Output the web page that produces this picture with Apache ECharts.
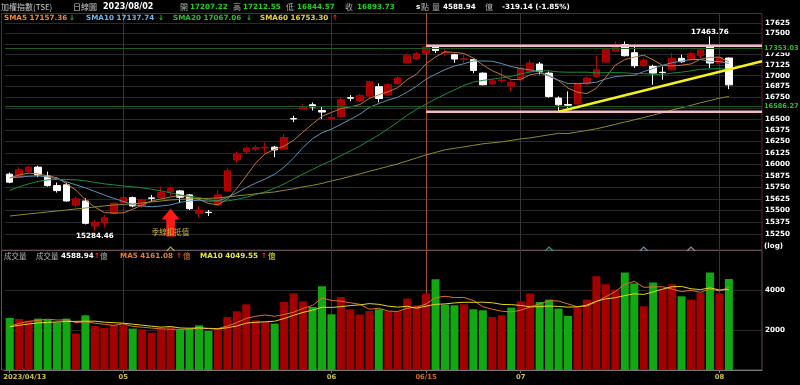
<!DOCTYPE html>
<html><head><meta charset="utf-8">
<script src="https://cdn.jsdelivr.net/npm/echarts@6/dist/echarts.min.js"></script>
<style>html,body{margin:0;padding:0;background:#000;}#c{width:800px;height:385px;}</style>
</head><body><div id="c"></div>
<script>
// ---------- data ----------
const dates = ['2023/04/13','2023/04/14','2023/04/17','2023/04/18','2023/04/19','2023/04/20','2023/04/21','2023/04/24','2023/04/25','2023/04/26','2023/04/27','2023/04/28',
'2023/05/02','2023/05/03','2023/05/04','2023/05/05','2023/05/08','2023/05/09','2023/05/10','2023/05/11','2023/05/12','2023/05/15','2023/05/16','2023/05/17','2023/05/18','2023/05/19','2023/05/22','2023/05/23','2023/05/24','2023/05/25','2023/05/26','2023/05/29','2023/05/30','2023/05/31',
'2023/06/01','2023/06/02','2023/06/05','2023/06/06','2023/06/07','2023/06/08','2023/06/09','2023/06/12','2023/06/13','2023/06/14','2023/06/15','2023/06/16','2023/06/19','2023/06/20','2023/06/21','2023/06/26','2023/06/27','2023/06/28','2023/06/29','2023/06/30',
'2023/07/03','2023/07/04','2023/07/05','2023/07/06','2023/07/07','2023/07/10','2023/07/11','2023/07/12','2023/07/13','2023/07/14','2023/07/17','2023/07/18','2023/07/19','2023/07/20','2023/07/21','2023/07/24','2023/07/25','2023/07/26','2023/07/27','2023/07/28','2023/07/31',
'2023/08/01','2023/08/02'];
const blankSlots = ['+1','+2','+3'];

const opens  = [15891,15858,15919,15968,15872,15767,15775,15559,15602,15337,15372,15471,15584,15638,15549,15635,15638,15703,15710,15667,
15471,15482,15559,15710,16047,16139,16170,16180,16188,16166,16508,16615,16665,16600,16507,16531,16745,16714,16764,16872,
16779,16907,17151,17199,17266,17345,17268,17246,17190,17187,17030,16905,16944,16880,16953,17050,17136,17030,16741,16668,
16676,16907,16991,17159,17291,17365,17270,17116,17108,17040,17069,17203,17187,17234,17341,17150,17207.22];
const closes = [15804,15938,15968,15883,15767,15713,15602,15624,15365,15376,15424,15578,15638,15549,15613,15630,15692,15735,15642,15520,
15505,15478,15667,15927,16111,16177,16182,16186,16158,16295,16503,16645,16640,16582,16519,16722,16740,16772,16930,16737,
16895,16973,17234,17257,17338,17295,17278,17195,17199,17061,16895,16940,16950,16922,17089,17148,17050,16760,16665,16660,
16907,16973,17069,17305,17365,17234,17116,17183,17030,17036,17203,17163,17258,17305,17148,17212.87,16893.73];
const lows   = [15793,15847,15909,15858,15756,15692,15595,15535,15354,15284.46,15324,15464,15541,15535,15524,15595,15631,15656,15578,15506,
15428,15442,15549,15700,16017,16114,16143,16121,16077,16158,16468,16607,16600,16502,16475,16520,16705,16700,16757,16691,
16764,16895,17140,17183,17257,17266,17234,17151,17151,17030,16887,16900,16915,16818,16945,17042,17014,16745,16586.27,16630,
16665,16895,16985,17150,17282,17227,17089,17105,16895,16953,17061,17151,17180,17207,17089,17120,16844.57];
const highs  = [15909,15968,15983,15983,15919,15800,15800,15649,15631,15400,15453,15588,15656,15649,15631,15667,15757,15757,15721,15678,
15549,15506,15721,15963,16134,16195,16210,16243,16203,16333,16540,16676,16691,16645,16550,16753,16776,16790,16941,16911,
16911,17000,17257,17281,17350,17353.03,17314,17257,17246,17199,17038,16965,17089,16945,17108,17187,17160,17050,16760,16818,
16915,16990,17234,17330,17404,17404,17341,17210,17128,17108,17270,17246,17281,17325,17463.76,17246,17212.55];
const volumes = [2620,2570,2488,2589,2539,2403,2589,1834,2756,2217,2116,2287,2252,2086,2050,1884,2086,2166,2035,2086,
2252,1965,2086,2670,2957,3310,2504,2418,2338,3426,3864,3461,3174,4217,2806,3678,3058,2791,2972,3058,
2957,2957,3597,3260,3849,4570,3295,3260,3310,3058,3008,2670,2756,3144,3461,3849,3426,3547,3093,2720,
3144,3547,4721,4318,4050,4907,4353,3209,4403,4100,4318,3713,3547,3899,4907,3864,4588.94];

// moving-average values before enough in-window data exist
const sma5Head  = [15851,15883,15902,15894];
const sma10Head = [15851,15860,15868,15872,15861,15840,15808,15775,15743];
const sma20Head = [15716,15754,15786,15813,15829,15834,15834,15829,15818,15802,15786,15775,15764,15754,15743,15727,15710,15689,15667];
const sma60Head = [15442,15453,15464,15474,15485,15495,15506,15517,15527,15538,15549,15559,15565,15570,15581,15591,15602,15613,15618,15624,
15629,15629,15635,15645,15656,15667,15678,15689,15699,15716,15732,15754,15770,15791,15818,15840,15867,15894,15922,15949,
15976,16003,16036,16069,16103,16130,16158,16175,16191,16208,16225,16236,16247,16263,16280,16291,16308,16325,16342];
const volMa5Head  = [2200,2350,2450,2500];
const volMa10Head = [2180,2250,2320,2370,2400,2420,2440,2450,2460];

const priceTicks = [15250,15375,15500,15625,15750,15875,16000,16125,16250,16375,16500,16625,16750,16875,17000,17125,17250,17375,17500,17625];
const priceHiddenLabels = [17375];
const priceRange = [15086.7, 17746];
const volTicks = [2000, 4000];
const volMax = 6045;
const xLabelMap = {0:'2023/04/13', 12:'05', 34:'06', 44:'06/15', 54:'07', 75:'08'};
const monthLineIdx = [12, 34, 54, 75];
const markIdx = 44;
const boxTop = 17353.03, boxBottom = 16586.27;
const trendPts = [[58, 16586.27], [79.5, 17170]];
const highNote = [74, 17463.76], lowNote = [9, 15284.46];
const arrowPos = [17, 15374], arrowTextPos = [17, 15277];
const deductMarks = [[17,'#b0a040'],[57,'#30a070'],[67,'#7888a0'],[72,'#a08888']];

// ---------- build ----------
const L = Math.log;
const cats = dates.concat(blankSlots);
function sma(vals, n, head){
  return vals.map((v,i)=>{ if(i<head.length) return head[i]; let s=0; for(let k=i-n+1;k<=i;k++) s+=vals[k]; return s/n; });
}
const candle = opens.map((o,i)=>[L(o),L(closes[i]),L(lows[i]),L(highs[i])]);
const RED='#a30000', GREEN='#12a812';
const volData = volumes.map((v,i)=>{
  const up = i===0 ? closes[0]>=opens[0] : closes[i]>=closes[i-1];
  return {value:v, itemStyle:{color: up?RED:GREEN}};
});
const NUMF = '"DejaVu Sans", Verdana, sans-serif';
const CJKF = '"Noto Sans CJK TC", sans-serif';
function lineSeries(name, data, color, xi, yi, z){
  return {name, type:'line', xAxisIndex:xi, yAxisIndex:yi, data, showSymbol:false, symbol:'none', smooth:false,
    lineStyle:{color, width:1}, z: z||3, silent:true, animation:false};
}
const monthVals = monthLineIdx.concat([markIdx]).sort((a,b)=>a-b);
const monthColors = monthVals.map(v=> v===markIdx ? '#a8501c' : '#363636');
const priceLabelVals = priceTicks.filter(t=>priceHiddenLabels.indexOf(t)<0).map(L);

function txt(text, x, y, fill, font){
  return {type:'text', x, y, silent:true, z:10, style:{text, fill, font, verticalAlign:'middle'}};
}
const B = 'bold 7.2px '+NUMF, C8 = '8px '+CJKF, C7 = '7.5px '+CJKF;
const graphics = [
  {type:'rect', shape:{x:1.5,y:13.5,width:760.5,height:236.5}, style:{fill:'none',stroke:'#5a2830',lineWidth:1}, silent:true, z:-1},
  {type:'rect', shape:{x:1.5,y:250.5,width:760.5,height:119.5}, style:{fill:'none',stroke:'#665058',lineWidth:1}, silent:true, z:-1},
  txt('加權指數(TSE)',1,7,'#c8c8c8',C8),
  txt('日線圖',73,7,'#c8c8c8',C8),
  txt('2023/08/02',103,7,'#ffffff','bold 8px '+NUMF),
  txt('開',180,7,'#b0b0b0',C8), txt('17207.22',190,7,'#22d022',B),
  txt('高',233,7,'#b0b0b0',C8), txt('17212.55',243,7,'#22d022',B),
  txt('低',286,7,'#b0b0b0',C8), txt('16844.57',297,7,'#22d022',B),
  txt('收',345,7,'#b0b0b0',C8), txt('16893.73',357,7,'#22d022',B),
  txt('s',416,7,'#ffffff',B), txt('點',421,7,'#b0b0b0',C8),
  txt('量',432,7,'#b0b0b0',C8), txt('4588.94',443,7,'#ffffff',B), txt('億',485,7,'#b0b0b0',C8),
  txt('-319.14 (-1.85%)',502,7,'#ffffff',B),
  txt('SMA5 17157.36',4,18.5,'#f08a2a',B), txt('↓',69,18.5,'#20c020',B),
  txt('SMA10 17137.74',86,18.5,'#6eb4e6',B), txt('↓',158,18.5,'#20c020',B),
  txt('SMA20 17067.06',173,18.5,'#2cbc2c',B), txt('↓',246,18.5,'#20c020',B),
  txt('SMA60 16753.30',260,18.5,'#e8d22c',B), txt('↑',332,18.5,'#ff2020',B),
  txt('成交量',4,256,'#b0b0b0',C7), txt('成交量',36,256,'#b0b0b0',C7),
  txt('4588.94',61,256,'#ffffff',B), txt('↑',94,256,'#ff2020',B), txt('億',100,256,'#b0b0b0',C7),
  txt('MA5 4161.08',120,256,'#e87c2c',B), txt('↑',176,256,'#ff2020',B), txt('億',183,256,'#e87c2c',C7),
  txt('MA10 4049.55',200,256,'#e8e830',B), txt('↑',261,256,'#ff2020',B), txt('億',268,256,'#e8e830',C7),
  txt('(log)',764,246,'#ffffff',B)
];

const chart = echarts.init(document.getElementById('c'), null, {renderer:'canvas'});
const option = {
  backgroundColor:'#000', animation:false,
  grid:[{left:5,right:38,top:13,height:237},{left:5,right:38,top:250,height:120}],
  xAxis:[
    {type:'category', gridIndex:0, data:cats, boundaryGap:true, axisLine:{show:false}, axisTick:{show:false}, axisLabel:{show:false}, splitLine:{show:false}},
    {type:'category', gridIndex:1, data:cats, boundaryGap:true,
      axisLine:{show:true, lineStyle:{color:'#7a7a7a'}},
      axisTick:{show:true, alignWithLabel:true, length:3, lineStyle:{color:'#7a7a7a'}, interval:(i)=>xLabelMap[i]!==undefined},
      axisLabel:{show:true, interval:(i)=>xLabelMap[i]!==undefined, margin:4, color:'#c8c040', fontSize:6.8, fontWeight:'bold', fontFamily:NUMF,
        formatter:(v,i)=>{ const t=xLabelMap[i]; if(t===undefined) return ''; if(i===0) return '{f|'+t+'}'; if(i===markIdx) return '{o|'+t+'}'; return t; },
        rich:{f:{color:'#c8c040',fontSize:6.8,fontWeight:'bold',fontFamily:NUMF,padding:[0,0,0,30]}, o:{color:'#d06a2a',fontSize:6.8,fontWeight:'bold',fontFamily:NUMF}}},
      splitLine:{show:false}},
    {type:'value', gridIndex:0, min:-0.5, max:79.5, axisLine:{show:false}, axisLabel:{show:false},
      axisTick:{show:false, customValues:monthVals}, splitLine:{show:true, lineStyle:{color:monthColors, width:1}}},
    {type:'value', gridIndex:1, min:-0.5, max:79.5, axisLine:{show:false}, axisLabel:{show:false},
      axisTick:{show:false, customValues:monthVals}, splitLine:{show:true, lineStyle:{color:monthColors, width:1}}}
  ],
  yAxis:[
    {type:'value', gridIndex:0, position:'right', min:L(priceRange[0]), max:L(priceRange[1]), scale:true,
      axisLine:{show:false}, axisTick:{show:false, customValues:priceTicks.map(L)},
      axisLabel:{show:true, customValues:priceLabelVals, formatter:(v)=>String(Math.round(Math.exp(v))), color:'#ffffff', fontSize:7.2, fontWeight:'bold', fontFamily:NUMF, margin:3},
      splitLine:{show:true, lineStyle:{color:'#2a2a2a', width:1}}},
    {type:'value', gridIndex:1, position:'right', min:0, max:volMax,
      axisLine:{show:false}, axisTick:{show:false, customValues:volTicks},
      axisLabel:{show:true, customValues:volTicks, formatter:(v)=>String(Math.round(v)), color:'#ffffff', fontSize:7.2, fontWeight:'bold', fontFamily:NUMF, margin:3},
      splitLine:{show:true, lineStyle:{color:'#2a2a2a', width:1}}}
  ],
  series:[
    {type:'candlestick', xAxisIndex:0, yAxisIndex:0, data:candle, barWidth:7, z:2, silent:true,
      itemStyle:{color:RED, color0:'#ffffff', borderColor:'#bb0000', borderColor0:'#ffffff', borderWidth:1},
      markLine:{silent:true, symbol:['none','none'], animation:false,
        label:{show:true, position:'end', distance:1, color:'#22c822', fontSize:6.6, fontWeight:'bold', fontFamily:NUMF, backgroundColor:'#000', padding:[1,0,1,1]},
        data:[
          {yAxis:L(boxTop), lineStyle:{color:'#1f5a1f', width:1, type:'solid'}, label:{formatter:'17353.03'}},
          {yAxis:L(boxBottom), lineStyle:{color:'#1f5a1f', width:1, type:'solid'}, label:{formatter:'16586.27'}}
        ]},
      markPoint:{silent:true, animation:false,
        data:[
          {coord:[highNote[0], L(highNote[1])], symbol:'circle', symbolSize:1, itemStyle:{color:'rgba(0,0,0,0)'},
            label:{show:true, position:'inside', offset:[0,-4.6], formatter:'17463.76', color:'#fff', fontSize:7.2, fontWeight:'bold', fontFamily:NUMF}},
          {coord:[lowNote[0], L(lowNote[1])], symbol:'circle', symbolSize:1, itemStyle:{color:'rgba(0,0,0,0)'},
            label:{show:true, position:'inside', offset:[0,4.8], formatter:'15284.46', color:'#fff', fontSize:7.2, fontWeight:'bold', fontFamily:NUMF}},
          {coord:[arrowPos[0], L(arrowPos[1])], symbol:'path://M9 0 L18 11 L13.3 11 L13.3 28 L4.7 28 L4.7 11 L0 11 Z', symbolSize:[18,28], symbolKeepAspect:false,
            itemStyle:{color:'#ff1a1a'}, label:{show:false}},
          {coord:[arrowTextPos[0], L(arrowTextPos[1])], symbol:'circle', symbolSize:1, itemStyle:{color:'rgba(0,0,0,0)'},
            label:{show:true, position:'inside', formatter:'季線扣抵值', color:'#c8b43c', fontSize:7.5, fontFamily:CJKF}}
        ]}
    },
    lineSeries('SMA5', sma(closes,5,sma5Head).map(L), '#c07838', 0, 0),
    lineSeries('SMA10', sma(closes,10,sma10Head).map(L), '#5c92b4', 0, 0),
    lineSeries('SMA20', sma(closes,20,sma20Head).map(L), '#1e8c3a', 0, 0),
    lineSeries('SMA60', sma(closes,60,sma60Head).map(L), '#8e8c28', 0, 0),
    Object.assign(lineSeries('boxTop', [[markIdx, L(boxTop)],[79.5, L(boxTop)]], '#f0b8c8', 2, 0, 4), {lineStyle:{color:'#f0b8c8', width:2.5}}),
    Object.assign(lineSeries('boxBottom', [[markIdx, L(boxBottom)],[79.5, L(boxBottom)]], '#f0b8c8', 2, 0, 4), {lineStyle:{color:'#f0b8c8', width:2.5}}),
    Object.assign(lineSeries('trend', trendPts.map(p=>[p[0], L(p[1])]), '#f5f020', 2, 0, 5), {lineStyle:{color:'#f5f020', width:2.5}}),
    {type:'bar', xAxisIndex:1, yAxisIndex:1, data:volData, barWidth:8, silent:true, z:2,
      markPoint:{silent:true, animation:false, symbol:'path://M0 6 L5 0 L10 6', symbolSize:[8,4], symbolOffset:[0,-1],
        label:{show:false},
        data: deductMarks.map(d=>({coord:[d[0], volMax], itemStyle:{color:'none', borderColor:d[1], borderWidth:1}}))}
    },
    lineSeries('VMA5', sma(volumes,5,volMa5Head), '#e07030', 1, 1),
    lineSeries('VMA10', sma(volumes,10,volMa10Head), '#e0d820', 1, 1)
  ],
  graphic: graphics
};
chart.setOption(option);
</script></body></html>
